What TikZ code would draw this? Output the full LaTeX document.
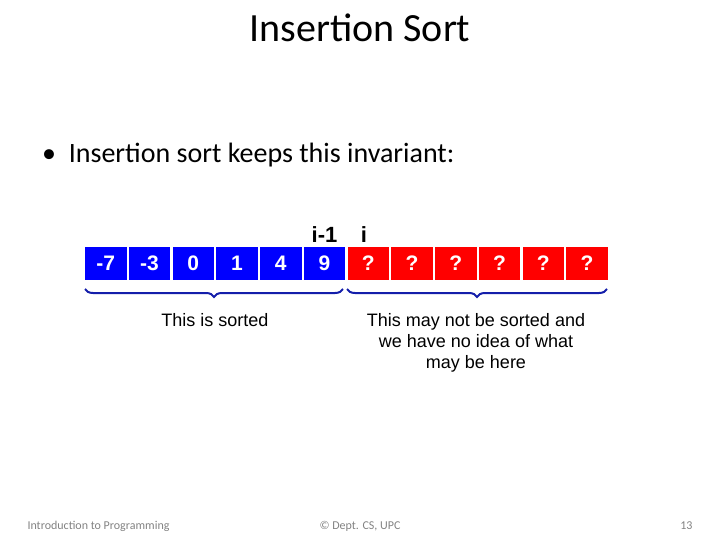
\documentclass[tikz,border=0pt]{standalone}
\usepackage{fontspec}
\setmainfont{Carlito}
\newfontfamily\arialf{Liberation Sans}
\usetikzlibrary{decorations.pathreplacing}
\definecolor{cellblue}{RGB}{0,0,255}
\definecolor{cellred}{RGB}{255,0,0}
\definecolor{bracecol}{RGB}{20,30,170}
\definecolor{footgray}{RGB}{130,130,130}
\tikzset{
  cell/.style={minimum width=41.5pt, minimum height=33pt, inner sep=0pt, text=white, font=\arialf\bfseries\fontsize{21}{23}\selectfont},
  bluecell/.style={cell, fill=cellblue},
  redcell/.style={cell, fill=cellred},
  idx/.style={font=\arialf\bfseries\fontsize{22}{24}\selectfont, text=black},
  note/.style={font=\arialf\fontsize{18}{21}\selectfont, align=center, text=black},
  foot/.style={font=\fontsize{12}{14}\selectfont, text=footgray},
  bracestyle/.style={draw=bracecol, line width=2pt, decorate, decoration={brace, mirror, amplitude=8pt}}
}
\begin{document}
\begin{tikzpicture}[x=1pt,y=-1pt]
\useasboundingbox (0,0) rectangle (720,540);
\node (title) at (360,28) {\fontsize{40}{42}\selectfont Insertion Sort};
\node[anchor=west, inner sep=0pt] (bullet) at (42,155) {\fontsize{28}{32}\selectfont \textbullet\ \ Insertion sort keeps this invariant:};
\foreach \v [count=\k from 0] in {-7,-3,0,1,4,9} {
  \node[bluecell] (c\k) at ({105.75+\k*43.75},263) {\v};
}
\foreach \k in {6,...,11} {
  \node[redcell] (c\k) at ({105.75+\k*43.75},263) {?};
}
\node[idx] (im1) at (c5.center |- 0,235) {i-1};
\node[idx] (ii) at (364,235) {i};
\coordinate (b1s) at (85,289);
\coordinate (b1e) at (343,289);
\coordinate (b2s) at (347,289);
\coordinate (b2e) at (607,289);
\draw[bracestyle] (b1s) -- (b1e);
\draw[bracestyle] (b2s) -- (b2e);
\node[note] (sorted) at (215,320) {This is sorted};
\node[note] (unsorted) at (476,343) {This may not be sorted and\\we have no idea of what\\may be here};
\node[foot, anchor=west] (f1) at (24,526) {Introduction to Programming};
\node[foot] (f2) at (360,526) {© Dept. CS, UPC};
\node[foot, anchor=east] (f3) at (696,526) {13};
\end{tikzpicture}
\end{document}
